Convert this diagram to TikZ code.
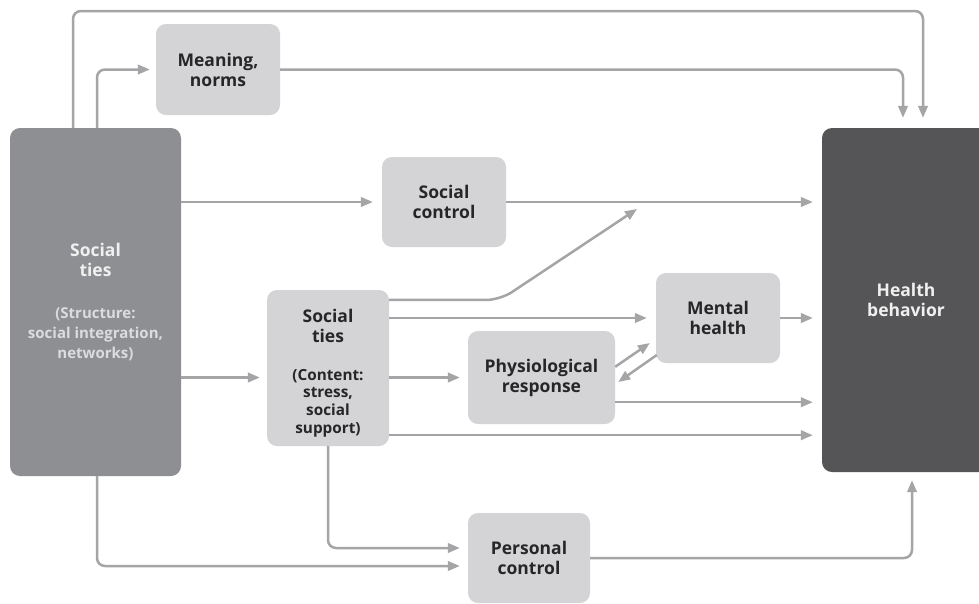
\documentclass[tikz,border=0pt]{standalone}
\usepackage{fontspec}
\setmainfont{Open Sans}
\usetikzlibrary{arrows.meta,calc}
\definecolor{boxlight}{HTML}{D4D4D6}
\definecolor{boxmid}{HTML}{8E8F92}
\definecolor{boxdark}{HTML}{555557}
\definecolor{linegray}{HTML}{A5A5A7}
\definecolor{txtdark}{HTML}{262628}
\definecolor{txtlight}{HTML}{F0F0F0}
\definecolor{txtsoft}{HTML}{DCDCDE}
% smaller type for the bracketed notes
\newcommand\notefont{\fontsize{15.3}{18}\selectfont}
\newcommand\softnote{\fontsize{15}{19.5}\selectfont\color{txtsoft}}
\tikzset{
  every node/.style={inner sep=0pt, align=center},
  boxfont/.style={font=\bfseries\fontsize{17.5}{20}\selectfont},
  lbox/.style={fill=boxlight, rounded corners=10pt, text=txtdark, boxfont},
  mbox/.style={fill=boxmid, rounded corners=10pt, text=txtlight, boxfont},
  dbox/.style={fill=boxdark, rounded corners=10pt, text=txtlight, boxfont},
  conn/.style={draw=linegray, line width=2.5pt, rounded corners=8pt,
    -{Triangle[length=12pt,width=9.5pt]}}
}
\begin{document}
\begin{tikzpicture}[x=1pt,y=-1pt]
\useasboundingbox (0,0) rectangle (979,603);
\fill[white] (0,0) rectangle (979,603);

% boxes
\node[mbox, minimum width=171pt, minimum height=348pt] (st) at (95.5,302)
  {Social\\ties\\[22pt]{\softnote (Structure:}\\{\softnote social integration,}\\{\softnote networks)}};
\node[lbox, minimum width=124pt, minimum height=91pt] (mn) at (218,69.5) {Meaning,\\norms};
\node[lbox, minimum width=124pt, minimum height=90pt] (sc) at (444,202) {Social\\control};
\node[lbox, minimum width=122pt, minimum height=156pt,
  label={[text=txtdark, boxfont, yshift=-5pt]center:{Social\\ties\\[18pt]{\notefont (Content:}\\[-2.3pt]{\notefont stress,}\\[-2.3pt]{\notefont social}\\[-2.3pt]{\notefont support)}}}]
  (ct) at (328,368) {};
\node[lbox, minimum width=147pt, minimum height=93pt] (ph) at (541.5,377.5) {Physiological\\response};
\node[lbox, minimum width=124pt, minimum height=90pt] (mh) at (718,318) {Mental\\health};
\node[lbox, minimum width=122pt, minimum height=90pt] (pc) at (529,558) {Personal\\control};
\node[dbox, minimum width=168pt, minimum height=344pt] (hb) at (906,300) {Health\\behavior};

\coordinate (topy) at (0,11);
\coordinate (dtip) at (637,209);

% connectors
\draw[conn, shorten >=10pt] ([xshift=-22.5pt]st.north) -- ([xshift=-22.5pt]st.north |- topy)
  -| ([xshift=17pt]hb.north);
\draw[conn, shorten >=6pt] ([xshift=1.5pt]st.north) |- (mn.west);
\draw[conn, shorten >=10pt] (mn.east) -| ([xshift=-3pt]hb.north);
\draw[conn, shorten >=9pt] (st.east |- sc.west) -- (sc.west);
\draw[conn, shorten >=9pt] (sc.east) -- (hb.west |- sc.east);
\draw[conn, rounded corners=14pt] ($(ct.north east)+(0,10)$) -- (500,300) -- (dtip);
\draw[conn, shorten >=9pt] (ct.east |- mh.west) -- (mh.west);
\draw[conn, shorten >=7pt] (st.east |- ph.west) -- (ct.west |- ph.west);
\draw[conn, shorten >=8pt] (ct.east |- ph.west) -- (ph.west);
\draw[conn, shorten >=9pt] ($(ct.south east)+(0,-11)$) -- (hb.west |- {$(ct.south east)+(0,-11)$});
\draw[conn, shorten >=9pt] ($(ph.south east)+(0,-22)$) -- (hb.west |- {$(ph.south east)+(0,-22)$});
\draw[conn, shorten >=9pt] (mh.east) -- (hb.west |- mh.east);
\draw[conn] ($(ph.north east)+(0,36)$) -- ($(mh.west)+(-6,25)$);
\draw[conn] ($(mh.west)+(1,37)$) -- ($(ph.east)+(3,4.5)$);
\draw[conn, shorten >=8pt] (ct.south) |- ($(pc.west)+(0,-10)$);
\draw[conn, shorten >=8pt] ([xshift=1.5pt]st.south) |- ($(pc.west)+(0,8)$);
\draw[conn, shorten >=8pt] (pc.east) -| ([xshift=6pt]hb.south);
\end{tikzpicture}
\end{document}
